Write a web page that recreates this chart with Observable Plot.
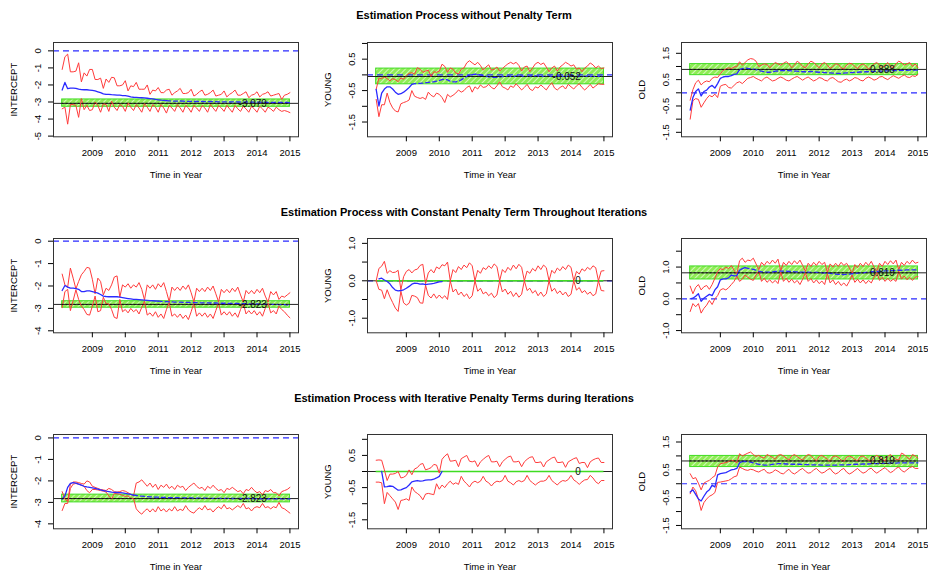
<!DOCTYPE html>
<html><head><meta charset="utf-8">
<script src="https://cdn.jsdelivr.net/npm/d3@7"></script>
<script src="https://cdn.jsdelivr.net/npm/@observablehq/plot@0.6"></script>
<style>
html,body{margin:0;padding:0;background:#fff;}
#fig{position:relative;width:928px;height:576px;overflow:hidden;background:#fff;font-family:"Liberation Sans",Arial,Helvetica,sans-serif;}
.title{position:absolute;left:0;width:928px;text-align:center;font-weight:bold;font-size:11px;line-height:11px;color:#000;}
.panel{position:absolute;}
</style></head><body>
<svg width="0" height="0" style="position:absolute">
 <defs>
  <pattern id="hatch" width="4" height="4" patternUnits="userSpaceOnUse" patternTransform="rotate(45)">
   <rect width="4" height="4" fill="#8fec55"/>
   <line x1="0" y1="0" x2="0" y2="4" stroke="#e8fcdc" stroke-width="1.5"/>
  </pattern>
 </defs>
</svg>
<div id="fig"></div>
<script>
// ---------- data ----------
const rowTitles = [
  "Estimation Process without Penalty Term",
  "Estimation Process with Constant Penalty Term Throughout Iterations",
  "Estimation Process with Iterative Penalty Terms during Iterations"
];
const yLabels = ["INTERCEPT", "YOUNG", "OLD"];
const xTicks = [2009, 2010, 2011, 2012, 2013, 2014, 2015];
// monthly observations, Feb 2008 .. Jan 2015
const firstYear = 2008, nMonths = 84;
const t = d3.range(nMonths).map(i => firstYear + (i + 1) / 12);

const estimates = [-3.079, -0.052, 0.888, -2.823, 0, 0.819, -2.823, 0, 0.819];
const estimateText = ["-3.079", "-0.052", "0.888", "-2.823", "0", "0.819", "-2.823", "0", "0.819"];
const bandLow  = [-3.28, -0.30, 0.67, -2.97, 0, 0.61, -3.00, 0, 0.60];
const bandHigh = [-2.85,  0.20, 1.09, -2.68, 0, 1.02, -2.64, 0, 1.00];

// ---- row 1 ----
const p1Upper = [-1.09,-0.35,-0.19,-1.23,-1.23,-1.19,-0.70,-1.82,-1.29,-1.48,-1.09,
 -1.09,-1.68,-1.68,-1.60,-2.20,-1.65,-1.85,-1.55,-1.58,-2.05,-2.05,-2.00,
 -1.75,-2.35,-2.05,-2.10,-1.85,-2.25,-2.25,-2.25,-2.00,-2.55,-2.30,-2.35,
 -2.15,-2.45,-2.45,-2.30,-2.25,-2.60,-2.45,-2.35,-2.20,-2.50,-2.50,-2.45,
 -2.25,-2.65,-2.55,-2.40,-2.30,-2.60,-2.55,-2.45,-2.30,-2.65,-2.60,-2.55,
 -2.35,-2.70,-2.55,-2.45,-2.30,-2.60,-2.60,-2.50,-2.40,-2.75,-2.60,-2.55,
 -2.40,-2.70,-2.55,-2.50,-2.40,-2.65,-2.60,-2.55,-2.50,-2.85,-2.60,-2.55,
 -2.45];
const p1Lower = [-3.40,-3.30,-4.30,-3.15,-3.15,-3.20,-3.90,-2.80,-3.45,-3.20,-3.50,
 -3.45,-3.00,-3.20,-3.60,-3.10,-3.15,-3.55,-2.95,-3.30,-3.50,-3.15,-3.25,
 -3.55,-3.05,-3.30,-3.50,-3.15,-3.35,-3.60,-3.10,-3.30,-3.55,-3.15,-3.30,
 -3.60,-3.15,-3.35,-3.65,-3.20,-3.35,-3.55,-3.15,-3.35,-3.60,-3.20,-3.35,
 -3.60,-3.20,-3.35,-3.55,-3.20,-3.35,-3.60,-3.15,-3.35,-3.55,-3.20,-3.35,
 -3.55,-3.20,-3.40,-3.60,-3.20,-3.40,-3.55,-3.25,-3.40,-3.60,-3.25,-3.40,
 -3.60,-3.25,-3.40,-3.60,-3.30,-3.40,-3.55,-3.30,-3.45,-3.55,-3.50,-3.55,
 -3.62];
const p1Est = [-2.30,-1.85,-2.22,-2.18,-2.18,-2.20,-2.25,-2.27,-2.28,-2.28,-2.30,
 -2.32,-2.35,-2.40,-2.45,-2.52,-2.55,-2.55,-2.57,-2.58,-2.60,-2.60,-2.62,
 -2.63,-2.66,-2.70,-2.72,-2.73,-2.74,-2.75,-2.76,-2.78,-2.80,-2.82,-2.85,
 -2.87,-2.89,-2.90,-2.92,-2.93,-2.94,-2.95,-2.95,-2.94,-2.95,-2.96,-2.96,
 -2.96,-2.97,-2.97,-2.96,-2.97,-2.98,-2.98,-2.97,-2.98,-2.98,-2.99,-2.99,
 -2.99,-2.99,-3.00,-2.99,-2.99,-3.00,-3.00,-3.01,-3.00,-3.00,-3.01,-3.01,
 -3.01,-3.01,-3.02,-3.01,-3.02,-3.02,-3.03,-3.02,-3.02,-3.03,-3.03,-3.03,
 -3.04];

const p2Upper = [-0.46,-0.10,-0.12,-0.06,-0.12,-0.19,-0.12,-0.15,-0.22,-0.10,-0.14,
 -0.02,0.05,0.07,0.02,0.23,0.18,0.08,0.12,0.15,-0.05,0.10,0.08,
 0.12,0.34,0.27,0.08,0.22,0.18,0.06,0.03,0.18,0.22,0.38,0.45,
 0.38,0.32,0.40,0.30,0.15,0.25,0.32,0.15,0.18,0.25,0.12,0.20,
 0.28,0.35,0.40,0.35,0.40,0.30,0.12,0.25,0.28,0.10,0.22,0.35,
 0.40,0.33,0.38,0.25,0.10,0.22,0.28,0.12,0.25,0.32,0.40,0.35,
 0.28,0.32,0.18,0.22,0.10,0.22,0.28,0.38,0.32,0.22,0.28,0.20,
 0.22];
const p2Lower = [-0.78,-1.33,-0.95,-0.95,-0.58,-0.88,-1.05,-1.15,-1.18,-0.92,-0.88,
 -0.85,-0.80,-0.50,-0.68,-0.72,-0.75,-0.72,-0.78,-0.55,-0.65,-0.70,-0.58,
 -0.62,-0.72,-0.88,-0.62,-0.70,-0.65,-0.58,-0.48,-0.55,-0.50,-0.40,-0.35,
 -0.55,-0.38,-0.45,-0.32,-0.40,-0.38,-0.30,-0.40,-0.45,-0.35,-0.22,-0.38,
 -0.42,-0.48,-0.35,-0.40,-0.28,-0.38,-0.48,-0.40,-0.30,-0.45,-0.50,-0.38,
 -0.42,-0.32,-0.40,-0.48,-0.35,-0.25,-0.42,-0.48,-0.40,-0.35,-0.45,-0.30,
 -0.38,-0.45,-0.35,-0.28,-0.40,-0.48,-0.40,-0.30,-0.42,-0.35,-0.28,-0.30,
 -0.30];
const p2Est = [-0.46,-0.99,-0.58,-0.45,-0.38,-0.38,-0.45,-0.55,-0.62,-0.60,-0.55,
 -0.48,-0.40,-0.30,-0.28,-0.27,-0.27,-0.26,-0.25,-0.24,-0.22,-0.22,-0.20,
 -0.18,-0.15,-0.14,-0.16,-0.20,-0.22,-0.22,-0.20,-0.16,-0.10,-0.05,-0.01,
 0.01,0.02,0.02,0.00,-0.02,-0.04,-0.06,-0.07,-0.08,-0.08,-0.07,-0.05,
 -0.04,-0.04,-0.05,-0.05,-0.04,-0.03,-0.04,-0.05,-0.05,-0.04,-0.03,-0.03,
 -0.04,-0.05,-0.05,-0.04,-0.04,-0.05,-0.05,-0.04,-0.04,-0.05,-0.05,-0.05,
 -0.04,-0.04,-0.05,-0.05,-0.05,-0.04,-0.04,-0.05,-0.05,-0.05,-0.05,-0.05,
 -0.05];

const p3Upper = [-0.28,0.12,0.38,0.48,0.30,0.40,0.45,0.42,0.55,0.60,0.58,
 0.72,0.85,0.90,0.95,0.92,0.98,1.00,1.18,1.05,1.15,1.25,1.30,
 1.28,1.20,1.00,1.05,1.10,1.08,0.95,1.05,1.15,1.10,1.05,1.12,
 1.18,1.10,0.95,1.05,1.20,1.12,1.00,0.95,1.10,1.20,1.15,1.05,
 0.95,1.10,1.15,1.05,0.92,1.00,1.10,1.08,0.95,0.90,1.05,1.12,
 1.10,1.00,0.92,1.05,1.10,1.02,0.90,0.98,1.10,1.15,1.05,0.95,
 1.05,1.15,1.00,0.95,1.10,1.20,1.15,1.05,1.10,1.15,1.00,1.10,
 0.95];
const p3Lower = [-1.00,-0.30,-0.22,-0.25,-0.55,-0.38,-0.22,-0.10,-0.15,-0.05,-0.18,
 0.25,0.30,0.32,0.20,0.18,0.28,0.38,0.42,0.35,0.45,0.55,0.58,
 0.62,0.55,0.50,0.45,0.55,0.60,0.52,0.45,0.48,0.55,0.60,0.55,
 0.48,0.45,0.52,0.58,0.62,0.55,0.48,0.55,0.60,0.52,0.45,0.50,
 0.58,0.55,0.48,0.45,0.55,0.58,0.50,0.42,0.40,0.48,0.52,0.45,
 0.50,0.58,0.55,0.48,0.45,0.55,0.60,0.55,0.48,0.52,0.60,0.62,
 0.55,0.50,0.58,0.65,0.60,0.55,0.62,0.68,0.60,0.58,0.65,0.62,
 0.70];
const p3Est = [-0.66,-0.18,0.05,0.15,-0.12,0.05,0.10,0.22,0.28,0.18,0.35,
 0.55,0.60,0.62,0.62,0.65,0.70,0.72,0.88,0.92,0.95,0.93,0.92,
 0.90,0.88,0.85,0.82,0.80,0.78,0.78,0.80,0.82,0.83,0.84,0.84,
 0.85,0.84,0.83,0.82,0.82,0.81,0.80,0.80,0.80,0.81,0.80,0.79,
 0.78,0.78,0.77,0.76,0.76,0.75,0.74,0.74,0.74,0.75,0.76,0.76,
 0.77,0.78,0.78,0.79,0.79,0.80,0.80,0.81,0.81,0.82,0.82,0.82,
 0.83,0.83,0.84,0.84,0.84,0.85,0.85,0.85,0.85,0.86,0.86,0.86,
 0.86];

// ---- row 2 ----
const p4Upper = [-1.47,-1.95,-2.05,-1.20,-1.65,-2.13,-1.80,-1.50,-1.35,-1.17,-1.20,
 -1.70,-2.35,-1.65,-1.80,-2.40,-2.10,-2.20,-1.95,-1.60,-1.55,-2.50,-1.95,
 -2.05,-1.90,-2.10,-1.95,-2.05,-1.85,-2.15,-2.62,-1.95,-2.10,-1.95,-2.15,
 -1.90,-2.05,-1.85,-2.25,-2.70,-2.05,-2.20,-2.05,-2.20,-2.00,-2.15,-1.95,
 -2.30,-2.71,-2.10,-2.25,-2.10,-2.25,-2.05,-2.20,-2.00,-2.35,-2.71,-2.15,
 -2.30,-2.15,-2.30,-2.10,-2.25,-2.05,-2.40,-2.72,-2.20,-2.35,-2.20,-2.35,
 -2.15,-2.30,-2.10,-2.45,-2.72,-2.25,-2.40,-2.25,-2.60,-2.45,-2.50,-2.40,
 -2.30];
const p4Lower = [-2.97,-2.25,-2.15,-3.10,-2.65,-2.17,-2.60,-2.90,-3.05,-3.27,-3.30,
 -2.90,-2.45,-3.15,-3.10,-2.50,-2.80,-2.80,-3.05,-3.40,-3.45,-2.60,-3.15,
 -3.05,-3.20,-3.00,-3.15,-3.05,-3.25,-2.95,-2.68,-3.30,-3.20,-3.35,-3.15,
 -3.40,-3.25,-3.45,-3.05,-2.74,-3.35,-3.25,-3.40,-3.25,-3.45,-3.30,-3.50,
 -3.15,-2.75,-3.35,-3.20,-3.35,-3.20,-3.40,-3.25,-3.45,-3.10,-2.75,-3.30,
 -3.15,-3.30,-3.15,-3.35,-3.20,-3.40,-3.05,-2.76,-3.25,-3.10,-3.25,-3.10,
 -3.30,-3.15,-3.35,-3.00,-2.76,-3.20,-3.10,-3.25,-2.90,-3.05,-3.15,-3.30,
 -3.42];
const p4Est = [-2.20,-1.98,-2.05,-2.10,-2.10,-2.12,-2.15,-2.25,-2.25,-2.22,-2.22,
 -2.25,-2.28,-2.32,-2.38,-2.45,-2.47,-2.48,-2.48,-2.48,-2.48,-2.50,-2.52,
 -2.54,-2.56,-2.58,-2.60,-2.60,-2.61,-2.62,-2.63,-2.64,-2.65,-2.66,-2.67,
 -2.68,-2.69,-2.70,-2.70,-2.71,-2.71,-2.72,-2.72,-2.72,-2.73,-2.73,-2.73,
 -2.74,-2.74,-2.74,-2.75,-2.75,-2.75,-2.75,-2.76,-2.76,-2.76,-2.77,-2.77,
 -2.77,-2.77,-2.78,-2.78,-2.78,-2.78,-2.79,-2.79,-2.79,-2.80,-2.80,-2.80,
 -2.80,-2.81,-2.81,-2.81,-2.82,-2.82,-2.82,-2.82,-2.83,-2.83,-2.83,-2.84,
 -2.84];

const p5Upper = [0.00,0.33,0.39,0.52,0.20,0.27,0.22,0.23,0.28,-0.24,0.11,
 0.25,0.30,0.21,0.29,0.31,0.41,0.44,-0.08,0.21,0.30,0.21,0.37,
 0.32,0.43,0.40,0.50,0.00,0.30,0.22,0.38,0.30,0.42,0.35,0.48,
 0.40,0.00,0.28,0.20,0.35,0.30,0.40,0.33,0.45,0.38,0.00,0.30,
 0.22,0.36,0.28,0.42,0.32,0.44,0.36,0.00,0.26,0.20,0.33,0.26,
 0.40,0.30,0.42,0.35,0.00,0.28,0.20,0.34,0.27,0.38,0.30,0.42,
 0.36,0.00,0.25,0.18,0.32,0.26,0.36,0.30,0.40,0.35,0.00,0.26,
 0.27];
const p5Lower = [0.00,-0.23,-0.25,-0.48,-0.24,-0.43,-0.58,-0.73,-0.82,-0.28,-0.59,
 -0.65,-0.60,-0.39,-0.41,-0.45,-0.59,-0.60,-0.12,-0.39,-0.46,-0.35,-0.47,
 -0.38,-0.47,-0.40,-0.50,0.00,-0.30,-0.22,-0.38,-0.30,-0.42,-0.35,-0.48,
 -0.40,0.00,-0.28,-0.20,-0.35,-0.30,-0.40,-0.33,-0.45,-0.38,0.00,-0.30,
 -0.22,-0.36,-0.28,-0.42,-0.32,-0.44,-0.36,0.00,-0.26,-0.20,-0.33,-0.26,
 -0.40,-0.30,-0.42,-0.35,0.00,-0.28,-0.20,-0.34,-0.27,-0.38,-0.30,-0.42,
 -0.36,0.00,-0.25,-0.18,-0.32,-0.26,-0.36,-0.30,-0.40,-0.35,0.00,-0.26,
 -0.27];
const p5EstStart = 1;
const p5Est = [0.05,0.07,0.02,-0.02,-0.08,-0.18,-0.25,-0.27,-0.26,-0.24,
 -0.20,-0.15,-0.09,-0.06,-0.07,-0.09,-0.08,-0.10,-0.09,-0.08,-0.07,-0.05,
 -0.03,-0.02];

const p6Upper = [0.40,0.16,0.36,0.45,0.28,0.38,0.42,0.30,0.45,0.65,0.85,
 0.95,0.92,1.00,0.95,1.05,0.90,0.78,1.20,1.28,1.15,1.22,1.20,
 1.28,1.10,0.92,1.15,1.05,1.18,1.10,1.22,1.12,1.25,0.88,1.15,
 1.05,1.18,1.08,1.20,1.10,1.22,1.05,0.86,1.12,1.02,1.15,1.05,
 1.18,1.08,1.15,0.83,1.10,1.00,1.12,1.02,1.15,1.05,1.12,0.98,
 0.79,1.08,0.98,1.12,1.02,1.15,1.05,1.18,1.00,0.87,1.12,1.02,
 1.18,1.08,1.20,1.10,1.22,0.92,1.15,1.05,1.18,1.10,1.22,1.12,
 1.15];
const p6Lower = [-0.40,-0.15,-0.25,-0.15,-0.45,-0.30,-0.20,-0.05,-0.18,0.00,0.10,
 0.28,0.32,0.28,0.35,0.45,0.55,0.72,0.55,0.62,0.75,0.68,0.62,
 0.58,0.75,0.88,0.55,0.65,0.52,0.60,0.50,0.58,0.48,0.84,0.55,
 0.65,0.52,0.62,0.50,0.58,0.45,0.62,0.82,0.55,0.64,0.50,0.60,
 0.48,0.56,0.45,0.79,0.50,0.60,0.45,0.55,0.42,0.50,0.40,0.55,
 0.75,0.52,0.62,0.50,0.60,0.48,0.58,0.50,0.68,0.83,0.58,0.68,
 0.55,0.65,0.55,0.62,0.55,0.88,0.62,0.72,0.60,0.68,0.58,0.68,
 0.70];
const p6Est = [0.00,0.02,0.08,0.16,-0.08,0.02,0.08,0.14,0.10,0.28,0.38,
 0.60,0.63,0.63,0.66,0.75,0.72,0.73,0.90,0.95,0.98,0.96,0.94,
 0.93,0.90,0.87,0.85,0.84,0.84,0.84,0.85,0.86,0.87,0.87,0.87,
 0.87,0.86,0.86,0.85,0.85,0.84,0.84,0.84,0.84,0.83,0.83,0.83,
 0.83,0.82,0.82,0.81,0.80,0.79,0.78,0.77,0.77,0.76,0.77,0.78,
 0.79,0.80,0.81,0.82,0.82,0.83,0.84,0.85,0.86,0.86,0.87,0.87,
 0.88,0.88,0.89,0.89,0.90,0.90,0.90,0.90,0.91,0.91,0.91,0.91,
 0.91];

// ---- row 3 ----
const p7Upper = [-2.50,-2.85,-2.95,-2.15,-2.05,-2.05,-2.08,-2.12,-2.15,-2.00,-2.05,
 -2.25,-2.30,-2.35,-2.40,-2.42,-2.45,-2.35,-2.40,-2.50,-2.52,-2.50,-2.45,
 -2.48,-2.55,-2.62,-2.70,-2.10,-2.05,-1.95,-2.10,-2.25,-2.10,-2.30,-2.15,
 -2.40,-2.20,-2.30,-2.15,-2.35,-2.25,-2.40,-2.20,-2.30,-2.25,-2.45,-2.30,
 -2.20,-2.10,-2.25,-2.35,-2.30,-2.45,-2.25,-2.35,-2.20,-2.35,-2.45,-2.40,
 -2.55,-2.35,-2.40,-2.30,-2.40,-2.50,-2.45,-2.60,-2.40,-2.45,-2.30,-2.45,
 -2.55,-2.50,-2.65,-2.45,-2.50,-2.40,-2.55,-2.55,-2.70,-2.50,-2.45,-2.40,
 -2.30];
const p7Lower = [-3.38,-3.05,-3.05,-2.35,-2.15,-2.12,-2.15,-2.20,-2.25,-2.45,-2.55,
 -2.40,-2.40,-2.42,-2.45,-2.48,-2.52,-2.70,-2.85,-2.58,-2.60,-2.62,-2.68,
 -2.72,-2.70,-2.80,-2.82,-3.30,-3.45,-3.55,-3.40,-3.30,-3.45,-3.30,-3.45,
 -3.20,-3.40,-3.30,-3.45,-3.30,-3.40,-3.20,-3.40,-3.32,-3.38,-3.15,-3.35,
 -3.45,-3.50,-3.35,-3.25,-3.35,-3.15,-3.35,-3.30,-3.45,-3.30,-3.20,-3.30,
 -3.10,-3.30,-3.25,-3.35,-3.25,-3.15,-3.25,-3.05,-3.30,-3.25,-3.40,-3.25,
 -3.20,-3.25,-3.05,-3.25,-3.20,-3.30,-3.20,-3.25,-3.00,-3.25,-3.30,-3.40,
 -3.50];
const p7Est = [-2.85,-2.70,-2.30,-2.12,-2.08,-2.10,-2.15,-2.20,-2.25,-2.28,-2.30,
 -2.32,-2.35,-2.38,-2.42,-2.45,-2.48,-2.50,-2.52,-2.53,-2.54,-2.55,-2.56,
 -2.58,-2.60,-2.63,-2.66,-2.68,-2.70,-2.71,-2.72,-2.73,-2.74,-2.75,-2.76,
 -2.76,-2.77,-2.77,-2.77,-2.78,-2.78,-2.78,-2.78,-2.79,-2.79,-2.79,-2.79,
 -2.79,-2.80,-2.80,-2.80,-2.80,-2.80,-2.80,-2.81,-2.81,-2.81,-2.81,-2.81,
 -2.81,-2.81,-2.82,-2.82,-2.82,-2.82,-2.82,-2.82,-2.82,-2.82,-2.82,-2.83,
 -2.83,-2.83,-2.83,-2.83,-2.83,-2.83,-2.83,-2.83,-2.84,-2.84,-2.84,-2.84,
 -2.84];

const p8Upper = [0.35,0.36,0.35,0.05,-0.28,-0.08,-0.08,-0.06,0.00,-0.20,-0.18,
 -0.12,0.05,-0.10,0.08,0.12,0.22,0.25,0.05,0.08,0.12,0.22,0.20,
 -0.05,0.38,0.48,0.55,0.32,0.33,0.35,0.15,0.40,0.45,0.50,0.32,
 0.30,0.33,0.15,0.30,0.38,0.45,0.50,0.30,0.30,0.32,0.15,0.30,
 0.38,0.45,0.48,0.30,0.30,0.32,0.15,0.30,0.38,0.44,0.46,0.28,
 0.28,0.30,0.14,0.30,0.36,0.42,0.45,0.28,0.28,0.30,0.13,0.30,
 0.35,0.40,0.43,0.25,0.28,0.28,0.12,0.30,0.36,0.40,0.42,0.28,
 0.28];
const p8Lower = [-0.33,-0.33,-0.35,-1.00,-0.65,-0.75,-0.85,-0.95,-1.18,-0.90,-0.88,
 -0.85,-0.90,-0.48,-0.62,-0.68,-0.75,-0.88,-0.70,-0.68,-0.70,-0.72,-0.38,
 -0.55,-0.42,-0.50,-0.38,-0.30,-0.40,-0.35,-0.40,-0.15,-0.30,-0.38,-0.48,
 -0.35,-0.30,-0.35,-0.30,-0.15,-0.30,-0.35,-0.45,-0.35,-0.30,-0.32,-0.28,
 -0.12,-0.30,-0.35,-0.42,-0.32,-0.28,-0.32,-0.28,-0.12,-0.28,-0.35,-0.42,
 -0.35,-0.30,-0.30,-0.26,-0.12,-0.28,-0.35,-0.42,-0.33,-0.28,-0.30,-0.25,
 -0.12,-0.26,-0.32,-0.40,-0.32,-0.26,-0.25,-0.12,-0.20,-0.32,-0.38,-0.28,
 -0.28];
const p8EstStart = 2;
const p8Est = [0.00,-0.48,-0.47,-0.45,-0.46,-0.52,-0.58,-0.57,-0.53,
 -0.50,-0.42,-0.32,-0.30,-0.28,-0.30,-0.29,-0.27,-0.26,-0.26,-0.24,-0.20,
 -0.15,0.00];

const p9Upper = [0.36,0.18,0.22,0.02,-0.22,0.02,0.08,0.12,0.22,0.28,0.60,
 0.72,0.74,0.76,0.80,0.85,0.82,0.75,1.08,1.00,1.05,1.10,1.14,
 1.05,0.98,1.02,0.95,0.92,1.05,1.00,0.95,0.88,1.02,1.05,1.00,
 0.92,0.85,1.00,1.05,0.98,0.90,0.85,0.98,1.05,1.02,0.90,0.82,
 0.98,1.02,0.95,0.88,0.80,0.98,1.00,0.95,0.85,0.80,0.95,1.00,
 0.95,0.88,0.82,0.98,1.00,0.92,0.85,0.80,0.95,1.02,0.95,0.88,
 0.82,0.98,1.05,0.95,0.88,0.85,1.10,1.05,0.95,0.88,1.05,1.00,
 0.92];
const p9Lower = [-0.36,-0.12,-0.25,-0.55,-0.96,-0.68,-0.55,-0.45,-0.40,-0.32,0.05,
 0.06,0.08,0.10,0.12,0.18,0.25,0.28,0.60,0.55,0.50,0.48,0.52,
 0.50,0.45,0.42,0.48,0.52,0.40,0.38,0.42,0.50,0.45,0.38,0.35,
 0.45,0.52,0.40,0.35,0.42,0.50,0.55,0.45,0.38,0.40,0.50,0.55,
 0.45,0.38,0.42,0.50,0.55,0.42,0.35,0.40,0.50,0.55,0.42,0.35,
 0.40,0.48,0.55,0.45,0.38,0.42,0.52,0.56,0.45,0.38,0.45,0.52,
 0.58,0.48,0.40,0.45,0.55,0.60,0.48,0.42,0.50,0.58,0.62,0.55,
 0.55];
const p9Est = [-0.30,-0.22,-0.38,-0.55,-0.62,-0.45,-0.30,-0.22,-0.05,-0.12,0.32,
 0.36,0.38,0.40,0.45,0.50,0.52,0.55,0.75,0.80,0.80,0.79,0.78,
 0.75,0.72,0.70,0.68,0.67,0.67,0.68,0.70,0.71,0.72,0.72,0.72,
 0.71,0.71,0.70,0.70,0.70,0.70,0.69,0.69,0.69,0.68,0.68,0.68,
 0.68,0.67,0.67,0.67,0.67,0.67,0.67,0.67,0.68,0.68,0.68,0.69,
 0.69,0.70,0.70,0.70,0.71,0.71,0.71,0.72,0.72,0.72,0.73,0.73,
 0.73,0.74,0.74,0.74,0.74,0.75,0.75,0.75,0.75,0.75,0.75,0.75,
 0.75];

// index (month) where the estimate path switches from solid to dashed (null: stays solid)
const dashFrom = [38, 13, 18, 35, null, 20, 26, null, 19];

// y axis ticks and tick texts (empty string = tick without label)
const yTicksInt5 = [-5, -4, -3, -2, -1, 0];
const yTicksInt5Text = ["-5", "-4", "-3", "-2", "-1", "0"];
const yTicksInt4 = [-4, -3, -2, -1, 0];
const yTicksInt4Text = ["-4", "-3", "-2", "-1", "0"];
const yTicksYoungA = [-1.5, -1, -0.5, 0, 0.5, 1];
const yTicksYoungAText = ["-1.5", "", "-0.5", "", "0.5", ""];
const yTicksOldA = [-1.5, -1, -0.5, 0, 0.5, 1, 1.5];
const yTicksOldAText = ["-1.5", "", "-0.5", "", "0.5", "", "1.5"];
const yTicksYoungB = [-1, -0.5, 0, 0.5, 1];
const yTicksYoungBText = ["-1.0", "", "0.0", "", "1.0"];
const yTicksOldB = [-1, -0.5, 0, 0.5, 1, 1.5];
const yTicksOldBText = ["-1.0", "", "0.0", "", "1.0", ""];

// ---------- layout ----------
const FONT = '"Liberation Sans", Arial, Helvetica, sans-serif';
const boxLeft = [53.3, 367.3, 681];
const boxTop = [42.3, 238.3, 434];
const boxW = 245, boxH = 94.3;
const ML = 50, MR = 4, MT = 4, MB = 48;
const xDomain = [2007.82, 2015.26];
const titleCenterY = [16, 213, 399];

const RED = "#ff3a3a", BLUE = "#2a2aff", GREEN = "#3fdc22";

const panels = [
  {upper: p1Upper, lower: p1Lower, est: p1Est, estStart: 0, yDomain: [-5.04, 0.49], ticks: yTicksInt5, tickText: yTicksInt5Text},
  {upper: p2Upper, lower: p2Lower, est: p2Est, estStart: 0, yDomain: [-1.97, 1.03], ticks: yTicksYoungA, tickText: yTicksYoungAText},
  {upper: p3Upper, lower: p3Lower, est: p3Est, estStart: 0, yDomain: [-1.67, 1.91], ticks: yTicksOldA, tickText: yTicksOldAText},
  {upper: p4Upper, lower: p4Lower, est: p4Est, estStart: 0, yDomain: [-4.09, 0.12], ticks: yTicksInt4, tickText: yTicksInt4Text},
  {upper: p5Upper, lower: p5Lower, est: p5Est, estStart: p5EstStart, yDomain: [-1.39, 1.13], ticks: yTicksYoungB, tickText: yTicksYoungBText},
  {upper: p6Upper, lower: p6Lower, est: p6Est, estStart: 0, yDomain: [-1.07, 1.90], ticks: yTicksOldB, tickText: yTicksOldBText},
  {upper: p7Upper, lower: p7Lower, est: p7Est, estStart: 0, yDomain: [-4.23, 0.16], ticks: yTicksInt4, tickText: yTicksInt4Text},
  {upper: p8Upper, lower: p8Lower, est: p8Est, estStart: p8EstStart, yDomain: [-1.78, 1.15], ticks: yTicksYoungA, tickText: yTicksYoungAText},
  {upper: p9Upper, lower: p9Lower, est: p9Est, estStart: 0, yDomain: [-1.62, 1.77], ticks: yTicksOldA, tickText: yTicksOldAText}
];

const fig = document.getElementById("fig");
rowTitles.forEach((s, r) => {
  const d = document.createElement("div");
  d.className = "title";
  d.textContent = s;
  d.style.top = (titleCenterY[r] - 6) + "px";
  fig.appendChild(d);
});

function toSeries(vals, start) {
  return vals.map((v, k) => ({t: t[start + k], v, i: start + k})).filter(d => d.v != null);
}

panels.forEach((p, k) => {
  const row = Math.floor(k / 3), col = k % 3;
  const tStart = t[0], tEnd = t[t.length - 1];
  const up = toSeries(p.upper, 0), lo = toSeries(p.lower, 0);
  const est = toSeries(p.est, p.estStart);
  const df = dashFrom[k];
  const solid = df == null ? est : est.filter(d => d.i <= df);
  const dashed = df == null ? [] : est.filter(d => d.i >= df);
  const e = estimates[k];
  const hasBand = bandHigh[k] > bandLow[k];
  const marks = [];
  const band = [{x1: tStart, x2: tEnd, y1: bandLow[k], y2: bandHigh[k]}];
  if (hasBand) {
    marks.push(Plot.rect(band, {x1: "x1", x2: "x2", y1: "y1", y2: "y2", fill: "url(#hatch)", stroke: GREEN, strokeWidth: 1}));
  }
  marks.push(Plot.ruleY([0], {stroke: BLUE, strokeWidth: 1.2, strokeDasharray: "6,4"}));
  marks.push(Plot.ruleY([e], {stroke: "#222", strokeWidth: 1}));
  if (!hasBand) {
    marks.push(Plot.ruleY([e], {x1: tStart, x2: tEnd, stroke: GREEN, strokeWidth: 1.6}));
  }
  marks.push(Plot.line(up, {x: "t", y: "v", stroke: RED, strokeWidth: 1}));
  marks.push(Plot.line(lo, {x: "t", y: "v", stroke: RED, strokeWidth: 1}));
  marks.push(Plot.line(solid, {x: "t", y: "v", stroke: BLUE, strokeWidth: 1.3}));
  if (dashed.length) {
    marks.push(Plot.line(dashed, {x: "t", y: "v", stroke: BLUE, strokeWidth: 1.3, strokeDasharray: "4,3"}));
  }
  if (hasBand) {
    marks.push(Plot.ruleY([e], {x1: tStart, x2: tEnd, stroke: "#111", strokeWidth: 1, strokeDasharray: "2,2"}));
  }
  marks.push(Plot.text([{x: 2014.3, y: e, s: estimateText[k]}], {x: "x", y: "y", text: "s", textAnchor: "end", fontSize: 10, fill: "#111"}));
  marks.push(Plot.frame({stroke: "#333", strokeWidth: 1}));
  marks.push(Plot.axisX({ticks: xTicks, tickFormat: d => String(d), tickSize: 5, tickPadding: 7,
    label: "Time in Year", labelAnchor: "center", labelOffset: 41, labelArrow: "none"}));
  marks.push(Plot.axisY({ticks: p.ticks, tickFormat: d => p.tickText[p.ticks.indexOf(d)], tickSize: 5, tickPadding: 8, tickRotate: -90,
    label: yLabels[col], labelAnchor: "center", labelOffset: 43, labelArrow: "none"}));

  const chart = Plot.plot({
    width: ML + boxW + MR, height: MT + boxH + MB,
    marginLeft: ML, marginRight: MR, marginTop: MT, marginBottom: MB,
    x: {domain: xDomain}, y: {domain: p.yDomain},
    style: {fontSize: "9.5px", fontFamily: FONT, color: "#000", background: "transparent", overflow: "visible"},
    marks
  });
  chart.classList.add("panel");
  chart.style.left = (boxLeft[col] - ML) + "px";
  chart.style.top = (boxTop[row] - MT) + "px";
  fig.appendChild(chart);
});
</script>
</body></html>
